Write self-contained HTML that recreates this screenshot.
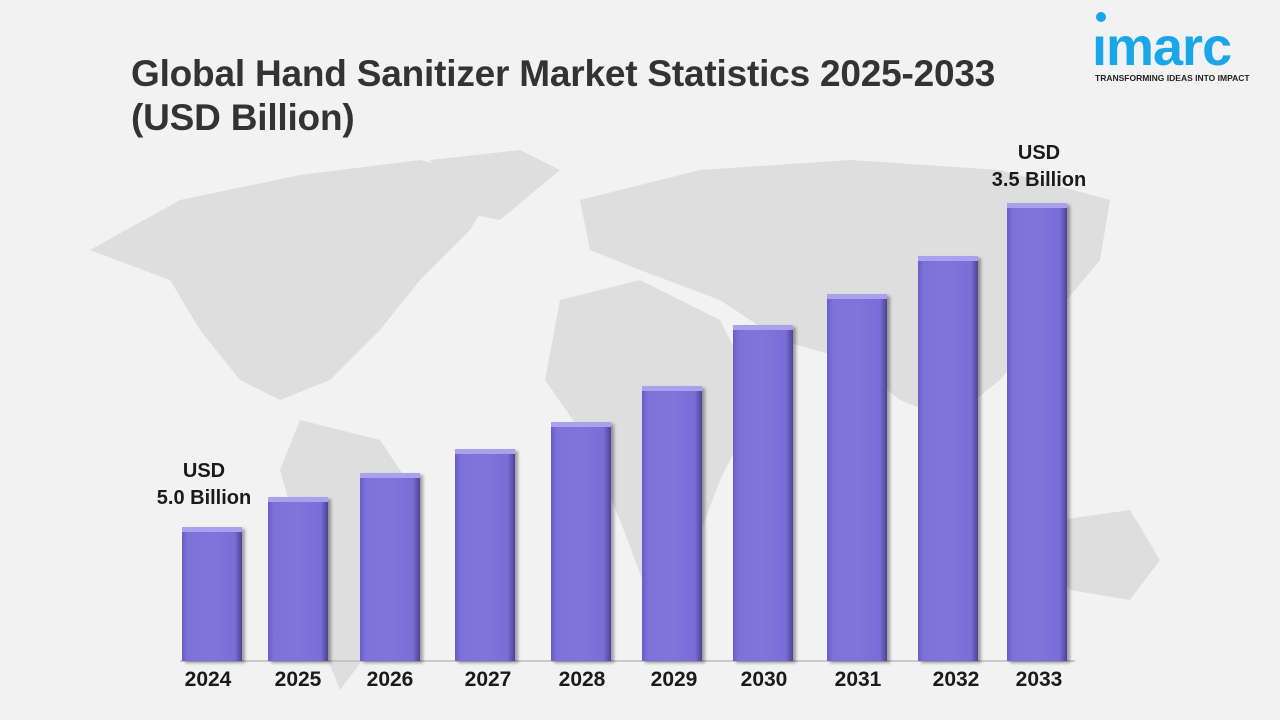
<!DOCTYPE html>
<html><head><meta charset="utf-8"><style>
body{margin:0;width:1280px;height:720px;background:#f2f2f2;position:relative;overflow:hidden;font-family:"Liberation Sans",Arial,sans-serif}
.t{position:absolute;left:131px;top:52px;font-size:37px;font-weight:bold;color:#333;line-height:44px;letter-spacing:-0.2px}
.bar{position:absolute;width:60px;background:linear-gradient(90deg,#6a5cc8 0%,#7e72d9 10%,#8174db 50%,#7a6dd6 88%,#4e4294 100%);box-shadow:3px 2px 3px rgba(0,0,0,.35);border-top:5px solid #a9a0ee;box-sizing:border-box}
.yr{position:absolute;top:668px;width:80px;text-align:center;font-size:21px;font-weight:bold;color:#1a1a1a}
.lb{position:absolute;font-size:20px;font-weight:bold;color:#1a1a1a;text-align:center;line-height:27px}
</style></head><body>
<svg width="1280" height="720" style="position:absolute;left:0;top:0">
<g fill="#dedede">
<path d="M90 250 L180 200 L300 175 L420 160 L500 180 L470 230 L420 280 L380 330 L330 380 L280 400 L240 380 L200 330 L170 280 Z"/>
<path d="M300 420 L380 440 L420 500 L400 580 L370 650 L340 690 L320 640 L300 540 L280 470 Z"/>
<path d="M430 160 L520 150 L560 170 L500 220 L450 210 Z"/>
<path d="M560 300 L640 280 L720 320 L760 400 L720 480 L690 560 L650 600 L620 520 L580 430 L545 380 Z"/>
<path d="M580 200 L700 170 L850 160 L1000 170 L1110 200 L1100 260 L1050 320 L1000 380 L950 420 L900 400 L850 360 L780 340 L720 300 L640 270 L590 250 Z"/>
<path d="M1060 520 L1130 510 L1160 560 L1130 600 L1070 590 L1050 560 Z"/>
</g>
<line x1="180" y1="661" x2="1075" y2="661" stroke="#bbb" stroke-width="1.5"/>
</svg>
<div class="t">Global Hand Sanitizer Market Statistics 2025-2033<br>(USD Billion)</div>
<div style="position:absolute;left:1096px;top:12px;width:10px;height:10px;border-radius:50%;background:#1aa7ea"></div>
<div style="position:absolute;left:1092px;top:16px;font-size:54px;font-weight:bold;color:#1aa7ea;letter-spacing:-1px">ımarc</div>
<div style="position:absolute;left:1095px;top:73px;font-size:8.5px;font-weight:bold;color:#222">TRANSFORMING IDEAS INTO IMPACT</div>

<div class="bar" style="left:182px;top:527px;height:134px"></div>
<div class="bar" style="left:268px;top:497px;height:164px"></div>
<div class="bar" style="left:360px;top:473px;height:188px"></div>
<div class="bar" style="left:455px;top:449px;height:212px"></div>
<div class="bar" style="left:551px;top:422px;height:239px"></div>
<div class="bar" style="left:642px;top:386px;height:275px"></div>
<div class="bar" style="left:733px;top:325px;height:336px"></div>
<div class="bar" style="left:827px;top:294px;height:367px"></div>
<div class="bar" style="left:918px;top:256px;height:405px"></div>
<div class="bar" style="left:1007px;top:203px;height:458px"></div>

<div class="yr" style="left:168px">2024</div>
<div class="yr" style="left:258px">2025</div>
<div class="yr" style="left:350px">2026</div>
<div class="yr" style="left:448px">2027</div>
<div class="yr" style="left:542px">2028</div>
<div class="yr" style="left:634px">2029</div>
<div class="yr" style="left:724px">2030</div>
<div class="yr" style="left:818px">2031</div>
<div class="yr" style="left:916px">2032</div>
<div class="yr" style="left:999px">2033</div>

<div class="lb" style="left:144px;top:458px;width:120px">USD<br>5.0 Billion</div>
<div class="lb" style="left:979px;top:140px;width:120px">USD<br>3.5 Billion</div>
</body></html>
